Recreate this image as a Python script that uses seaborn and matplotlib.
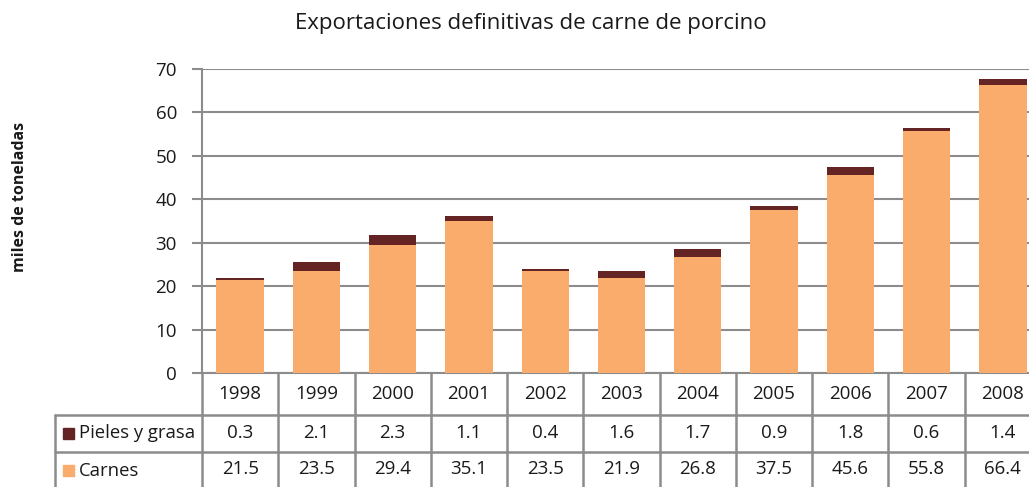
import matplotlib
matplotlib.use("Agg")
import matplotlib.pyplot as plt
import matplotlib.transforms as mtransforms
import seaborn as sns
import pandas as pd

# datos
anios = ["1998", "1999", "2000", "2001", "2002", "2003", "2004", "2005", "2006", "2007", "2008"]
carnes = [21.5, 23.5, 29.4, 35.1, 23.5, 21.9, 26.8, 37.5, 45.6, 55.8, 66.4]
pieles = [0.3, 2.1, 2.3, 1.1, 0.4, 1.6, 1.7, 0.9, 1.8, 0.6, 1.4]
series = ["Pieles y grasa", "Carnes"]

col_carnes = "#F9AC6C"
col_pieles = "#632423"
gris = "#8C8C8C"
negro = "#1a1a1a"

df = pd.DataFrame({"anio": anios, "carnes": carnes, "pieles": pieles})
df["total"] = df["carnes"] + df["pieles"]

sns.set_theme(style="white")
plt.rcParams["font.family"] = ["Open Sans", "DejaVu Sans"]

fig = plt.figure(figsize=(10.29, 4.87), dpi=100)
ax = fig.add_axes([202 / 1029, 114 / 487, 839 / 1029, 304 / 487])

# barras apiladas: total al fondo, carnes encima
sns.barplot(ax=ax, data=df, x="anio", y="total", color=col_pieles, width=0.62,
            saturation=1, errorbar=None, linewidth=0, zorder=3)
sns.barplot(ax=ax, data=df, x="anio", y="carnes", color=col_carnes, width=0.62,
            saturation=1, errorbar=None, linewidth=0, zorder=4)

ax.set_ylim(0, 70)
ax.set_xlim(-0.5, len(anios) - 0.5)
ax.set_yticks(range(0, 71, 10))
ax.yaxis.grid(True, color=gris, linewidth=1.5, zorder=0)
ax.set_axisbelow(True)
for s in ["top", "right"]:
    ax.spines[s].set_visible(False)
ax.spines["left"].set_color(gris)
ax.spines["left"].set_linewidth(1.5)
ax.spines["bottom"].set_color(gris)
ax.spines["bottom"].set_linewidth(1.5)
ax.tick_params(axis="y", left=True, length=7, width=1.5, color=gris,
               labelsize=13.5, labelcolor=negro, pad=11)
ax.tick_params(axis="x", bottom=False, labelbottom=False)
ax.set_xlabel("")
ax.set_ylabel("")

fig.text(20 / 1029, 1 - 197 / 487, "miles de toneladas", rotation=90, ha="center",
         va="center", fontsize=11.5, fontweight="bold", color=negro)
fig.text(531 / 1029, 1 - 24 / 487, "Exportaciones definitivas de carne de porcino",
         ha="center", va="center", fontsize=16, color=negro)

# tabla de datos bajo el eje
tr = mtransforms.blended_transform_factory(ax.transData, fig.transFigure)
ftr = fig.transFigure
def fy(p):
    return 1 - p / 487

y0, y1, y2, y3 = fy(373), fy(415), fy(452), fy(489)
n = len(anios)
lk = dict(color=gris, linewidth=1.8, clip_on=False)
for i in range(n + 1):
    ax.plot([i - 0.5, i - 0.5], [y0, y3], transform=tr, **lk)
for yy in (y1, y2, y3):
    ax.plot([-0.5, n - 0.5], [yy, yy], transform=tr, **lk)
    fig.add_artist(plt.Line2D([55 / 1029, 202 / 1029], [yy, yy], transform=ftr, color=gris, linewidth=1.8))
fig.add_artist(plt.Line2D([55 / 1029, 55 / 1029], [y1, y3], transform=ftr, color=gris, linewidth=1.8))

for i, a in enumerate(anios):
    ax.text(i, (y0 + y1) / 2, a, transform=tr, ha="center", va="center", fontsize=13.5, color=negro)
    ax.text(i, (y1 + y2) / 2, f"{pieles[i]:.1f}", transform=tr, ha="center", va="center",
            fontsize=13.5, color=negro)
    ax.text(i, (y2 + y3) / 2 + 0.004, f"{carnes[i]:.1f}", transform=tr, ha="center", va="center",
            fontsize=13.5, color=negro)

for yy_a, yy_b, nombre, col in [(y1, y2, series[0], col_pieles), (y2, y3, series[1], col_carnes)]:
    ym = (yy_a + yy_b) / 2
    fig.add_artist(plt.Rectangle((63 / 1029, ym - 5.5 / 487), 11 / 1029, 11 / 487,
                                 transform=ftr, color=col))
    fig.text(79 / 1029, ym, nombre, ha="left", va="center", fontsize=13.3, color=negro)

fig.savefig("out.png", dpi=100)
